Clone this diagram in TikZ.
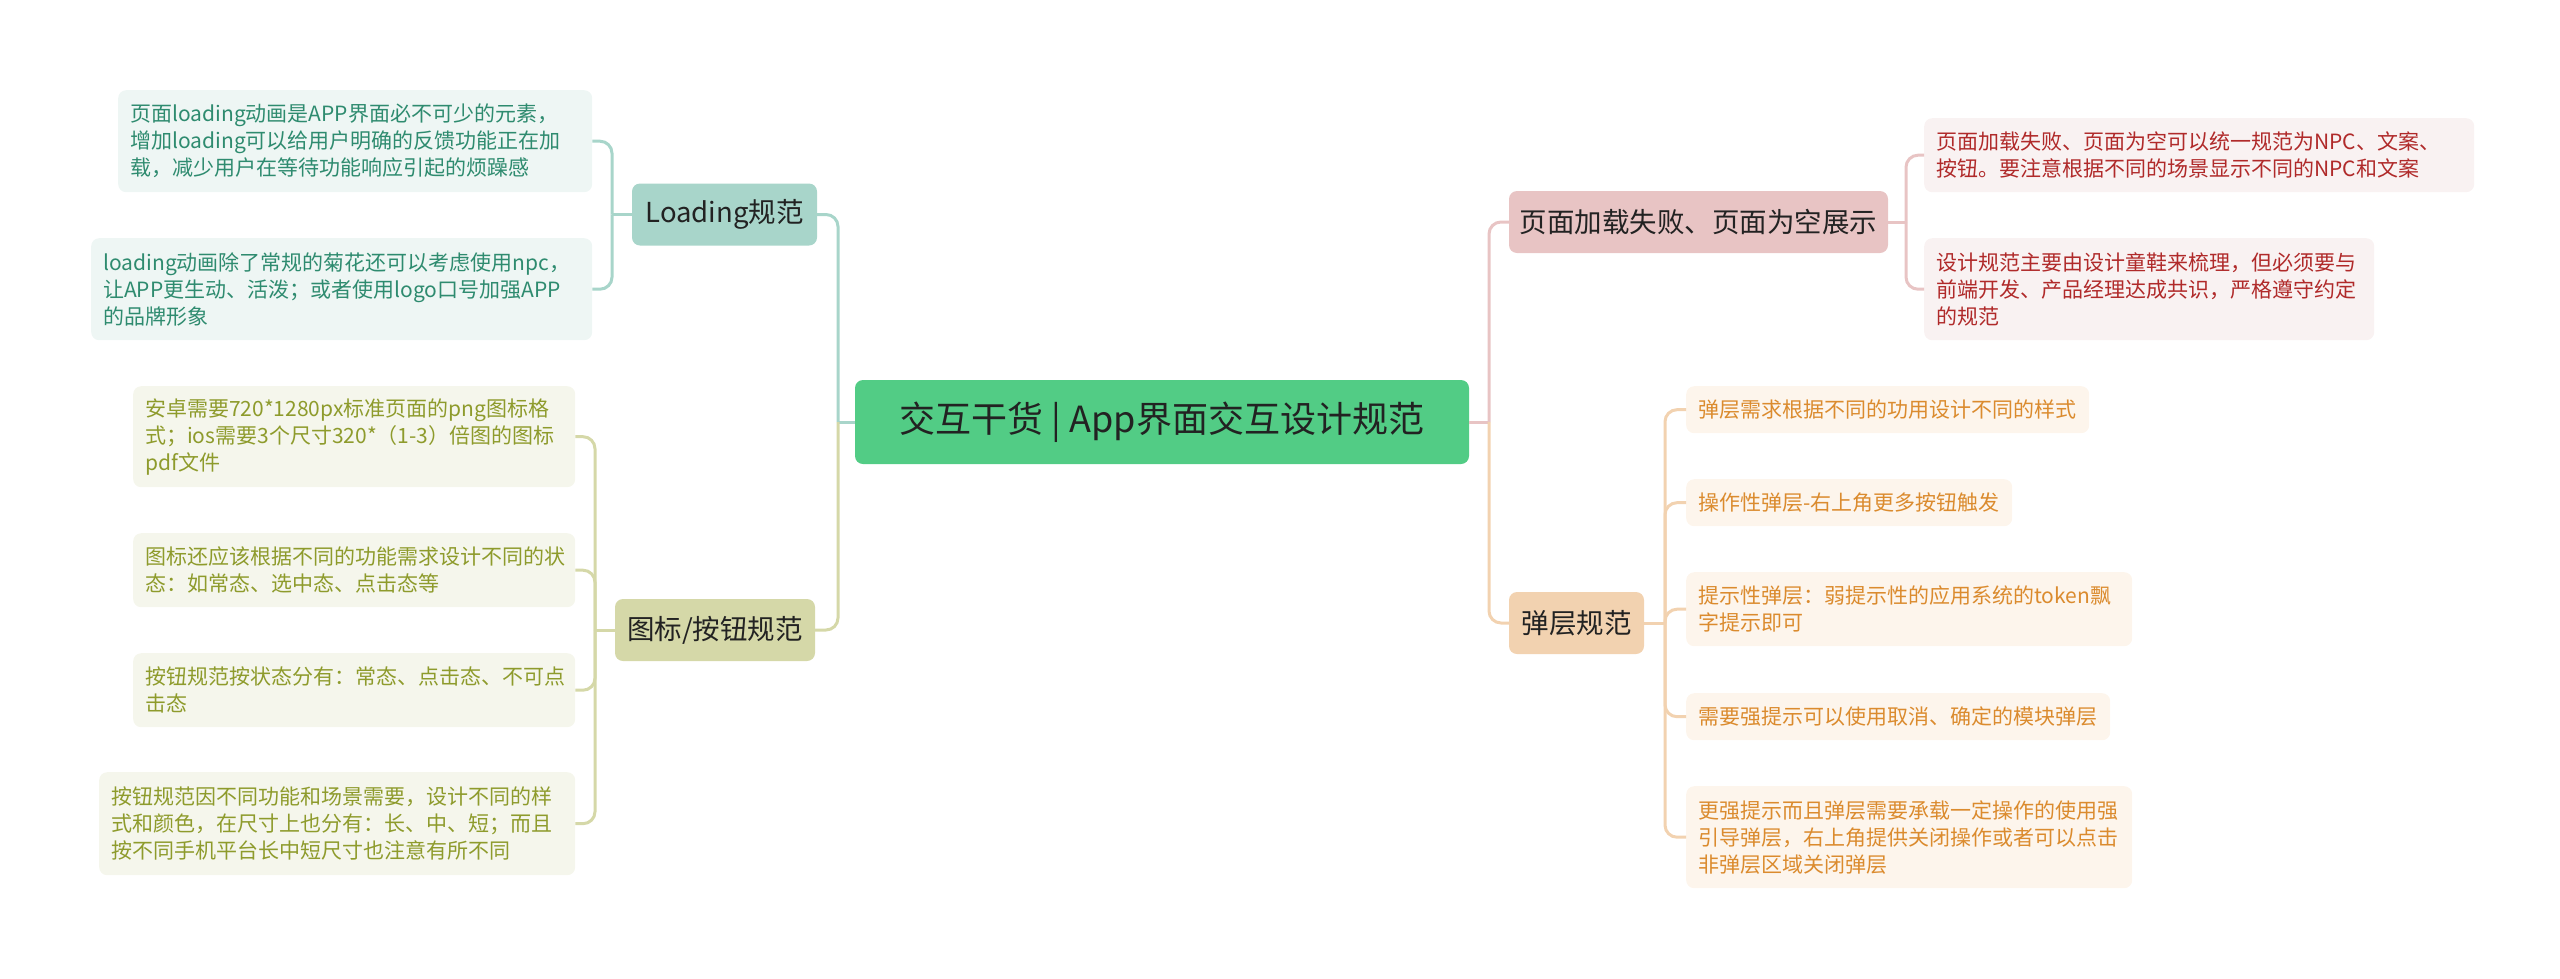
\documentclass[tikz,border=0pt]{standalone}
\usepackage{fontspec}
\setmainfont{Noto Sans CJK SC}
\definecolor{rootfill}{HTML}{52CC85}
\definecolor{tealbox}{HTML}{A8D5CA}
\definecolor{tealleaf}{HTML}{EEF6F4}
\definecolor{tealtext}{HTML}{2E8B6F}
\definecolor{olivebox}{HTML}{D5D8A8}
\definecolor{oliveleaf}{HTML}{F5F6EC}
\definecolor{olivetext}{HTML}{8E9B2C}
\definecolor{redbox}{HTML}{E8C4C4}
\definecolor{redleaf}{HTML}{F9F2F2}
\definecolor{redtext}{HTML}{B02A2A}
\definecolor{orabox}{HTML}{F2D2B0}
\definecolor{oraleaf}{HTML}{FDF5EC}
\definecolor{oratext}{HTML}{DB8B2E}
\definecolor{darktext}{HTML}{222222}
\tikzset{
  rootbox/.style={fill=rootfill, rounded corners=8pt, minimum width=614pt, minimum height=84pt, inner sep=0pt, text=darktext, font=\fontsize{36}{40}\selectfont},
  topicbox/.style={rounded corners=8pt, inner sep=0pt, minimum height=62pt, text=darktext, font=\fontsize{27.5}{32}\selectfont},
  leafbox/.style={rounded corners=8pt, inner xsep=12pt, inner ysep=0pt, align=left, anchor=north west, font=\fontsize{21}{27}\selectfont},
  leafT/.style={leafbox, fill=tealleaf, text=tealtext},
  leafO/.style={leafbox, fill=oliveleaf, text=olivetext},
  leafR/.style={leafbox, fill=redleaf, text=redtext},
  leafA/.style={leafbox, fill=oraleaf, text=oratext},
  conn/.style={line width=3pt, rounded corners=12pt},
}
\begin{document}
\begin{tikzpicture}[x=1pt, y=-1pt]
\useasboundingbox (0,0) rectangle (2560,978);
% root
\node[rootbox] (root) at (1162,422) {交互干货 | App界面交互设计规范};
% topics
\node[topicbox, fill=tealbox, minimum width=185pt] (load) at (724.5,214.5) {Loading规范};
\node[topicbox, fill=olivebox, minimum width=200pt] (icon) at (715,630) {图标/按钮规范};
\node[topicbox, fill=redbox, minimum width=379pt] (fail) at (1698.5,222) {页面加载失败、页面为空展示};
\node[topicbox, fill=orabox, minimum width=135pt] (layer) at (1576.5,623) {弹层规范};
% leaves left
\node[leafT, text width=450pt, minimum height=102pt] (l1) at (118,90) {页面loading动画是APP界面必不可少的元素，\\增加loading可以给用户明确的反馈功能正在加\\载，减少用户在等待功能响应引起的烦躁感};
\node[leafT, text width=477pt, minimum height=102pt] (l2) at (91,238) {loading动画除了常规的菊花还可以考虑使用npc，\\让APP更生动、活泼；或者使用logo口号加强APP\\的品牌形象};
\node[leafO, text width=418pt, minimum height=101pt] (i1) at (133,386) {安卓需要720*1280px标准页面的png图标格\\式；ios需要3个尺寸320*（1-3）倍图的图标\\pdf文件};
\node[leafO, text width=418pt, minimum height=74pt] (i2) at (133,533) {图标还应该根据不同的功能需求设计不同的状\\态：如常态、选中态、点击态等};
\node[leafO, text width=418pt, minimum height=74pt] (i3) at (133,653) {按钮规范按状态分有：常态、点击态、不可点\\击态};
\node[leafO, text width=452pt, minimum height=103pt] (i4) at (99,772) {按钮规范因不同功能和场景需要，设计不同的样\\式和颜色，在尺寸上也分有：长、中、短；而且\\按不同手机平台长中短尺寸也注意有所不同};
% leaves right
\node[leafR, text width=526pt, minimum height=74pt] (r1) at (1924,118) {页面加载失败、页面为空可以统一规范为NPC、文案、\\按钮。要注意根据不同的场景显示不同的NPC和文案};
\node[leafR, text width=426pt, minimum height=102pt] (r2) at (1924,238) {设计规范主要由设计童鞋来梳理，但必须要与\\前端开发、产品经理达成共识，严格遵守约定\\的规范};
\node[leafA, text width=379pt, minimum height=47pt] (s1) at (1686,386) {弹层需求根据不同的功用设计不同的样式};
\node[leafA, text width=302pt, minimum height=47pt] (s2) at (1686,479) {操作性弹层-右上角更多按钮触发};
\node[leafA, text width=422pt, minimum height=74pt] (s3) at (1686,572) {提示性弹层：弱提示性的应用系统的token飘\\字提示即可};
\node[leafA, text width=400pt, minimum height=47pt] (s4) at (1686,693) {需要强提示可以使用取消、确定的模块弹层};
\node[leafA, text width=422pt, minimum height=102pt] (s5) at (1686,786) {更强提示而且弹层需要承载一定操作的使用强\\引导弹层，右上角提供关闭操作或者可以点击\\非弹层区域关闭弹层};
% junctions
\coordinate (jL) at (838,422);
\coordinate (jR) at (1489,422);
\coordinate (jload) at (612,214.5);
\coordinate (jicon) at (595,630);
\coordinate (jfail) at (1906,222);
\coordinate (jlayer) at (1665,623);
% root connectors
\draw[conn, tealbox] (root.west) -- (jL);
\draw[conn, tealbox] (jL) |- (load.east);
\draw[conn, olivebox] (jL) |- (icon.east);
\draw[conn, redbox] (root.east) -- (jR);
\draw[conn, redbox] (jR) |- (fail.west);
\draw[conn, orabox] (jR) |- (layer.west);
% loading
\draw[conn, tealbox] (load.west) -- (jload);
\draw[conn, tealbox] (jload) |- (l1.east);
\draw[conn, tealbox] (jload) |- (l2.east);
% icon
\draw[conn, olivebox] (icon.west) -- (jicon);
\draw[conn, olivebox] (jicon) |- (i1.east);
\draw[conn, olivebox] (jicon) |- (i2.east);
\draw[conn, olivebox] (jicon) |- (i3.east);
\draw[conn, olivebox] (jicon) |- (i4.east);
% fail
\draw[conn, redbox] (fail.east) -- (jfail);
\draw[conn, redbox] (jfail) |- (r1.west);
\draw[conn, redbox] (jfail) |- (r2.west);
% layer
\draw[conn, orabox] (layer.east) -- (jlayer);
\draw[conn, orabox] (jlayer) |- (s1.west);
\draw[conn, orabox] (jlayer) |- (s2.west);
\draw[conn, orabox] (jlayer) |- (s3.west);
\draw[conn, orabox] (jlayer) |- (s4.west);
\draw[conn, orabox] (jlayer) |- (s5.west);
\end{tikzpicture}
\end{document}
